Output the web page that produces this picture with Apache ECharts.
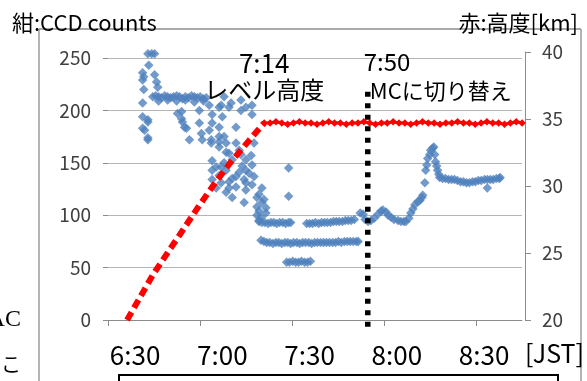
<!DOCTYPE html>
<html>
<head>
<meta charset="utf-8">
<script src="https://cdn.jsdelivr.net/npm/echarts@6/dist/echarts.min.js"></script>
<style>
  html, body { margin: 0; padding: 0; background: #fff; }
  #chart { width: 587px; height: 381px; }
</style>
</head>
<body>
<div id="chart"></div>
<script>
// Times are minutes after midnight (JST).
const timeLabelMinutes = [390, 420, 450, 480, 510];          // 6:30 … 8:30
const timeTickMinutes = [380.7, 412.3, 444.1, 475.5, 507.2];  // axis tick marks
const countTicks = [0, 50, 100, 150, 200, 250];
const altitudeTicks = [20, 25, 30, 35, 40];

// CCD counts (blue diamonds): [time, counts]
const ccdSamples = [
  // launch cluster
  [392.6, 207], [392.6, 194], [394.4, 189], [393.3, 181], [394.4, 172],
  [392.6, 236], [393.0, 232], [392.6, 229], [394.7, 243], [396.7, 234],
  [397.4, 227], [397.8, 222], [394.4, 191], [392.6, 183], [394.4, 174],
  [394.4, 254], [395.7, 254], [396.7, 254], [393.0, 220],
  // ~213 band
  [396.1, 213], [397.1, 214], [398.1, 213], [399.1, 212], [400.2, 214],
  [401.2, 213], [402.2, 212], [403.2, 213], [404.3, 214], [405.3, 213],
  [406.3, 211], [407.3, 213], [408.4, 212], [409.4, 214], [410.4, 213],
  [411.4, 212], [412.4, 213], [413.5, 211], [414.5, 212],
  [398.1, 209], [401.2, 210], [404.3, 209], [407.3, 210], [410.4, 208], [413.5, 209],
  // scatter under the band
  [404.6, 197], [406.0, 199], [406.3, 189], [407.0, 184], [407.7, 183],
  [408.7, 172], [406.0, 192], [412.1, 200], [412.1, 188], [412.8, 178],
  [413.1, 172], [415.5, 205], [415.5, 181], [416.2, 169], [416.5, 196],
  [416.5, 188], [416.2, 172], [418.9, 203], [418.9, 184], [418.9, 175],
  [419.6, 205], [420.0, 194], [420.6, 213], [420.6, 175], [421.3, 169],
  [422.3, 203], [423.0, 207], [424.7, 184], [424.7, 169], [426.4, 210],
  [426.4, 200], [428.1, 203], [430.2, 205], [430.2, 196], [430.9, 169],
  [418.9, 170],
  // ascent cluster
  [418.9, 165], [422.3, 159], [425.8, 162], [423.4, 153], [428.1, 153],
  [429.9, 157], [416.5, 143], [417.9, 146], [418.9, 138], [421.3, 143],
  [423.4, 135], [425.8, 141], [428.1, 143], [430.2, 148], [416.5, 134],
  [419.6, 131], [422.3, 132], [424.7, 127], [428.1, 131], [417.9, 126],
  [421.3, 122], [423.4, 117], [427.5, 112], [428.1, 124], [430.2, 129],
  [433.6, 126], [431.9, 117], [434.3, 115], [435.0, 107], [435.0, 102],
  [431.9, 100], [432.6, 95], [420.6, 150], [426.8, 147], [416.5, 152],
  [424.7, 137], [430.9, 137], [432.6, 120], [426.4, 158], [421.3, 160],
  [419.6, 146], [427.5, 134], [429.2, 140], [422.3, 126],
  [431.9, 108], [432.6, 104], [433.3, 98], [433.6, 112],
  // ~93 band
  [432.6, 94], [433.6, 93], [434.6, 93], [435.7, 92], [436.7, 93], [437.7, 93],
  [438.7, 92], [439.7, 93], [440.8, 93], [441.8, 92], [442.8, 93], [443.5, 93],
  [442.8, 145], [442.8, 118],
  // ~74 band
  [433.3, 76], [434.3, 75], [435.3, 74], [436.3, 74], [437.4, 73], [438.4, 74],
  [439.4, 74], [440.4, 73], [441.5, 74], [442.5, 74], [443.5, 73], [444.5, 74],
  [445.6, 74], [446.6, 73], [447.6, 74], [448.6, 74], [449.7, 74], [450.7, 73],
  [451.7, 74], [452.7, 74], [453.8, 74], [454.8, 74], [455.8, 74], [456.8, 74],
  [457.9, 74], [458.9, 74], [459.9, 75], [460.9, 74], [462.0, 75], [463.0, 75],
  [464.0, 75], [465.0, 75], [466.1, 75], [466.7, 75],
  // ~55 band
  [442.1, 55], [443.1, 55], [444.2, 56], [445.2, 55], [446.2, 55],
  [447.2, 56], [448.3, 55], [449.3, 55], [450.3, 56],
  // ~93 band after 7:30
  [449.0, 92], [450.0, 92], [451.0, 92], [452.0, 93], [453.1, 92], [454.1, 93],
  [455.1, 93], [456.1, 93], [457.2, 93], [458.2, 94], [459.2, 94], [460.2, 94],
  [461.3, 94], [462.3, 95], [463.3, 95], [464.3, 95], [465.4, 96],
  [467.4, 102], [468.4, 101], [469.1, 96], [470.1, 94], [471.1, 95], [472.2, 97],
  [473.5, 101], [474.6, 104], [475.2, 105], [476.3, 103], [477.0, 100], [478.0, 98],
  [479.0, 96], [480.4, 95], [481.4, 94], [482.4, 94], [483.1, 94], [484.1, 97],
  // rise to the peak after 8:00
  [484.8, 102], [485.5, 106], [486.2, 110], [487.2, 113], [487.9, 114],
  [488.6, 117], [488.9, 119], [489.6, 131], [489.9, 143], [490.3, 148],
  [490.6, 154], [491.3, 158], [491.6, 162], [492.3, 164], [492.7, 165],
  [493.0, 158], [493.3, 151], [493.7, 147], [494.0, 143], [494.4, 139], [494.7, 136],
  // tail
  [495.7, 135], [496.7, 135], [497.8, 134], [498.8, 134], [499.8, 134],
  [500.8, 133], [501.9, 132], [502.9, 132], [503.9, 131], [504.9, 131],
  [506.0, 132], [507.0, 132], [508.0, 133], [509.0, 133], [510.1, 134],
  [511.1, 134], [512.1, 134], [513.1, 134], [514.2, 135], [515.2, 135],
  [515.5, 136], [511.1, 126]
];

// Altitude in km (red): ascent, then level flight
const ascentTimes = [387.2, 396.1, 401.9, 405.3, 411.4, 416.5, 422.3, 428.1, 431.6, 434];
const ascentAltitude = [20.0, 23.4, 25.3, 26.4, 28.4, 30.0, 31.7, 33.2, 34.1, 34.7];
const levelTimes = [
  434, 436, 438, 440, 442, 444, 446, 448, 450, 452, 454, 456, 458, 460, 462,
  464, 466, 468, 470, 472, 474, 476, 478, 480, 482, 484, 486, 488, 490, 492,
  494, 496, 498, 500, 502, 504, 506, 508, 510, 512, 514, 516, 518, 520, 522
];
const levelAltitude = [
  34.7, 34.7, 34.8, 34.7, 34.6, 34.7, 34.8, 34.7, 34.7, 34.6,
  34.7, 34.8, 34.7, 34.7, 34.6, 34.7, 34.7, 34.8, 34.7, 34.6,
  34.7, 34.7, 34.8, 34.7, 34.7, 34.6, 34.7, 34.8, 34.7, 34.7,
  34.6, 34.7, 34.7, 34.8, 34.7, 34.7, 34.6, 34.7, 34.8, 34.7,
  34.7, 34.6, 34.7, 34.8, 34.7
];

// Switch to MC at 7:50 (dotted vertical marker, counts span)
const switchTime = 470;
const switchSpan = [-6.5, 223];

const FONT = '"Noto Sans CJK JP", "Noto Sans", sans-serif';
const fmtTime = v => Math.floor(v / 60) + ':' + String(Math.round(v % 60)).padStart(2, '0');
const zip = (xs, ys) => xs.map((x, i) => [x, ys[i]]);

const xRange = { min: 380.7, max: 523 };
const axisGray = '#8c8c8c';

const option = {
  animation: false,
  backgroundColor: '#fff',
  title: [
    { text: '紺:CCD counts', left: 12, top: 12, padding: 0,
      textStyle: { fontFamily: FONT, fontSize: 22, fontWeight: 'normal', color: '#000' } },
    { text: '赤:高度[km]', right: 9, top: 12, padding: 0,
      textStyle: { fontFamily: FONT, fontSize: 22, fontWeight: 'normal', color: '#000' } }
  ],
  grid: [
    { left: 108, right: 62, top: 58, bottom: 61 },
    { left: 108, right: 62, top: 52, bottom: 61 }
  ],
  xAxis: [
    {
      gridIndex: 0, type: 'value', ...xRange,
      axisLine: { show: true, lineStyle: { color: axisGray, width: 1 } },
      axisTick: { show: true, customValues: timeTickMinutes, length: 6, inside: false,
                  lineStyle: { color: axisGray } },
      axisLabel: { customValues: timeLabelMinutes, formatter: fmtTime, margin: 22,
                   fontFamily: FONT, fontSize: 26, color: '#000' },
      splitLine: { show: false },
      name: '[JST]', nameLocation: 'end', nameGap: 3,
      nameTextStyle: { fontFamily: FONT, fontSize: 25, color: '#000',
                       verticalAlign: 'top', padding: [21, 0, 0, 0] }
    },
    { gridIndex: 1, type: 'value', ...xRange, show: false }
  ],
  yAxis: [
    {
      gridIndex: 0, type: 'value', min: 0, max: 250, interval: 50, position: 'left',
      axisLine: { show: false },
      axisTick: { show: true, length: 5, lineStyle: { color: axisGray } },
      axisLabel: { margin: 17, fontFamily: FONT, fontSize: 19, color: '#404040',
                   customValues: countTicks },
      splitLine: { show: true, lineStyle: { color: '#b4b4b4', width: 1 } }
    },
    {
      gridIndex: 1, type: 'value', min: 20, max: 40, interval: 5, position: 'right',
      axisLine: { show: true, lineStyle: { color: axisGray, width: 1 } },
      axisTick: { show: true, length: 6, lineStyle: { color: axisGray } },
      axisLabel: { margin: 17, fontFamily: FONT, fontSize: 19, color: '#404040',
                   customValues: altitudeTicks },
      splitLine: { show: false }
    }
  ],
  series: [
    {
      name: 'CCD counts', type: 'scatter', xAxisIndex: 0, yAxisIndex: 0,
      symbol: 'diamond', symbolSize: 9.5, clip: false,
      itemStyle: { color: '#4f81bd' },
      data: ccdSamples, z: 2
    },
    {
      name: '高度 (上昇)', type: 'line', xAxisIndex: 1, yAxisIndex: 1,
      symbol: 'none',
      lineStyle: { color: '#ff0000', width: 6, type: [9, 5] },
      data: zip(ascentTimes, ascentAltitude), z: 3
    },
    {
      name: '高度 (レベル)', type: 'line', xAxisIndex: 1, yAxisIndex: 1,
      symbol: 'diamond', symbolSize: 7.5,
      itemStyle: { color: '#ff0000' },
      lineStyle: { color: '#ff0000', width: 3 },
      data: zip(levelTimes, levelAltitude), z: 3
    },
    {
      name: 'MC切り替え', type: 'line', xAxisIndex: 0, yAxisIndex: 0,
      symbol: 'none', clip: false,
      lineStyle: { color: '#000', width: 5.5, type: [5, 6.5] },
      data: switchSpan.map(v => [switchTime, v]), z: 4
    }
  ]
};

const chart = echarts.init(document.getElementById('chart'));
chart.setOption(option);

// Annotation texts anchored to the level-off point and the switch marker
const levelPt = chart.convertToPixel({ gridIndex: 1 },
  [ascentTimes[ascentTimes.length - 1], ascentAltitude[ascentAltitude.length - 1]]);
const switchPt = chart.convertToPixel({ gridIndex: 0 }, [switchTime, switchSpan[1]]);

const txt = (text, x, y, size, align) => ({
  type: 'text', z: 10,
  style: { text, x, y, fill: '#000', font: `400 ${size}px ${FONT}`,
           align, verticalAlign: 'middle', textAlign: align, textVerticalAlign: 'middle' }
});
const line = (x1, y1, x2, y2, color, w) => ({
  type: 'line', z: 0, silent: true,
  shape: { x1, y1, x2, y2 }, style: { stroke: color, lineWidth: w }
});

chart.setOption({
  graphic: [
    // surrounding page frame and text box
    line(39, 29, 581, 29, '#8c8c8c', 1.3),
    line(39, 29, 39, 381, '#8c8c8c', 1.3),
    line(581, 29, 581, 381, '#8c8c8c', 1.3),
    { type: 'rect', z: 0, shape: { x: 119, y: 375, width: 439, height: 20 },
      style: { fill: 'none', stroke: '#000', lineWidth: 2 } },
    { type: 'text', z: 1, style: { text: 'AC', x: 21, y: 320, fill: '#000',
      font: '400 24px "Liberation Serif", serif', align: 'right', verticalAlign: 'middle',
      textAlign: 'right', textVerticalAlign: 'middle' } },
    { type: 'text', z: 1, style: { text: 'こ', x: 21, y: 364, fill: '#000',
      font: `400 20px ${FONT}`, align: 'right', verticalAlign: 'middle',
      textAlign: 'right', textVerticalAlign: 'middle' } },
    // annotations
    txt('7:14', levelPt[0], levelPt[1] - 60, 26, 'center'),
    txt('レベル高度', levelPt[0], levelPt[1] - 33, 24, 'center'),
    txt('7:50', switchPt[0] - 4, switchPt[1] - 24, 24, 'left'),
    txt('MCに切り替え', switchPt[0] + 2, switchPt[1] + 4, 22, 'left')
  ]
});
</script>
</body>
</html>
